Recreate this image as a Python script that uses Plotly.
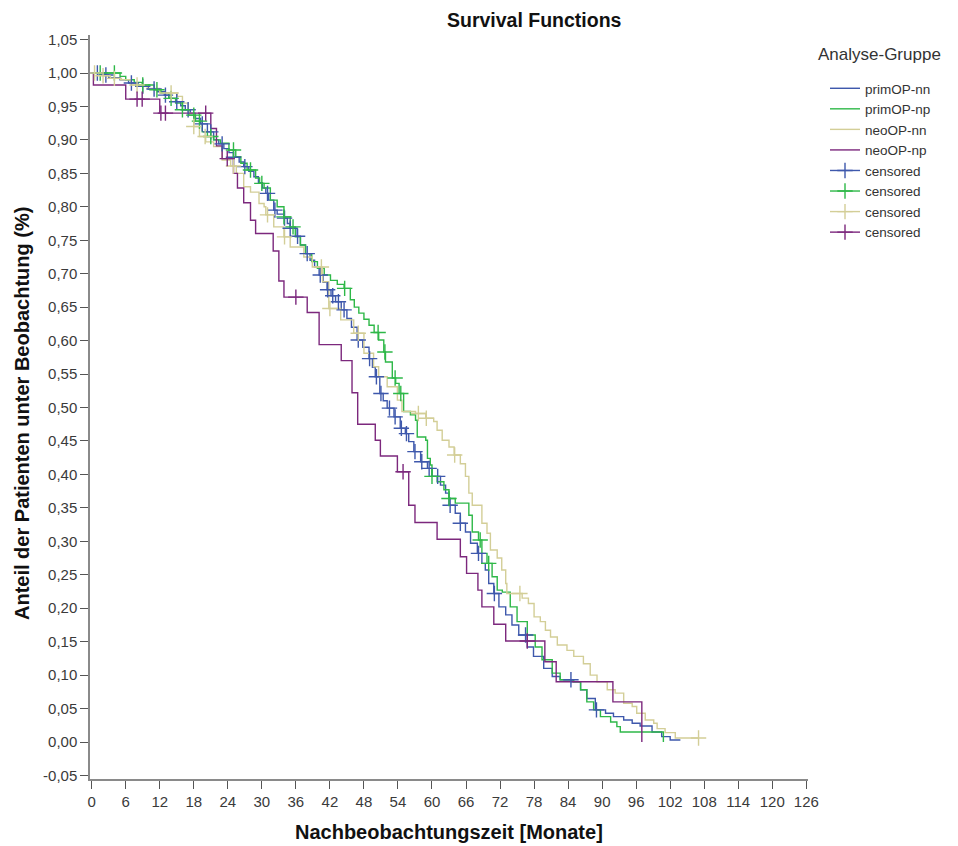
import plotly.graph_objects as go
import bisect

# Kaplan-Meier step functions: event time (months) and survival after that time
groups = ["primOP-nn", "primOP-np", "neoOP-nn", "neoOP-np"]
colors = ["#3E58AC", "#2EB848", "#D3CE97", "#7C287D"]

prim_nn_t = [0, 1.5, 3, 5, 6.5, 8, 10, 11.6, 12.8, 13.6, 14.8, 15.7, 16.5, 17.4, 18.2, 19.2,
             20.4, 21.5, 22.4, 23.3, 24.2, 25, 26, 26.8, 27.7, 28.6, 29.4, 30.1, 30.7, 31.2,
             32.1, 32.7, 33.9, 34.5, 35, 36, 36.8, 37.7, 38.5, 39.3, 40.1, 40.8, 41.5, 42.2,
             43, 44, 45, 45.8, 46.8, 47.8, 48.9, 49.5, 50, 50.8, 51.4, 52.1, 53.3, 54.4, 55.3,
             55.9, 56.8, 58, 59.2, 60, 61.5, 62.4, 63, 64.1, 65, 65.9, 66.8, 68, 68.8, 69.4,
             70, 70.9, 71.8, 73, 74.1, 75.3, 76.8, 77.9, 79.7, 81.2, 82.6, 84.7, 86.2, 87.3,
             88.8, 90.6, 92, 93.8, 95.3, 96.7, 98.8, 100.5, 102, 103.8]
prim_nn_s = [1.0, 0.997, 0.993, 0.99, 0.985, 0.98, 0.976, 0.972, 0.967, 0.962, 0.957, 0.951,
             0.945, 0.94, 0.932, 0.924, 0.912, 0.90, 0.894, 0.887, 0.881, 0.874, 0.867, 0.86,
             0.853, 0.845, 0.836, 0.828, 0.82, 0.81, 0.795, 0.789, 0.783, 0.775, 0.768, 0.756,
             0.743, 0.73, 0.72, 0.71, 0.698, 0.687, 0.676, 0.667, 0.658, 0.646, 0.633, 0.62,
             0.601, 0.59, 0.573, 0.56, 0.546, 0.521, 0.51, 0.499, 0.486, 0.469, 0.461, 0.449,
             0.434, 0.419, 0.409, 0.397, 0.384, 0.372, 0.354, 0.342, 0.327, 0.314, 0.297,
             0.282, 0.267, 0.257, 0.237, 0.222, 0.202, 0.19, 0.175, 0.16, 0.142, 0.128, 0.11,
             0.098, 0.093, 0.09, 0.078, 0.065, 0.048, 0.043, 0.038, 0.033, 0.028, 0.024,
             0.015, 0.008, 0.003, 0.003]

prim_np_t = [0, 5, 6, 7.5, 8.9, 11, 12.2, 13.6, 14.8, 16, 17.1, 18.3, 19.5, 20.4, 21.5, 22.7,
             24.2, 25.4, 26.3, 27.4, 28.9, 29.6, 30.4, 31.5, 32.7, 33.9, 35, 35.9, 36.8, 37.7,
             38.8, 39.8, 41, 42.1, 43.3, 44.5, 45.6, 46.3, 47.1, 48, 48.9, 49.8, 50.6, 51.5,
             51.8, 53, 53.6, 54.2, 55, 56.2, 57.1, 57.4, 58.9, 59.2, 59.7, 60, 60.9, 62.1, 63,
             64.1, 66.5, 67.1, 68.2, 68.8, 69.7, 70.6, 71.5, 72.4, 73.8, 75, 76.8, 78.2, 79.4,
             81.2, 82.6, 85, 86.2, 87.3, 88.5, 89.7, 91.5, 92.6, 93.2, 100.8]
prim_np_s = [1.0, 0.995, 0.99, 0.986, 0.982, 0.975, 0.97, 0.962, 0.955, 0.945, 0.937, 0.928,
             0.912, 0.905, 0.90, 0.895, 0.885, 0.875, 0.865, 0.855, 0.843, 0.835, 0.828, 0.81,
             0.80, 0.785, 0.77, 0.755, 0.743, 0.73, 0.718, 0.708, 0.698, 0.69, 0.684, 0.678,
             0.661, 0.65, 0.641, 0.632, 0.623, 0.612, 0.601, 0.583, 0.568, 0.544, 0.536, 0.521,
             0.494, 0.489, 0.481, 0.456, 0.451, 0.424, 0.414, 0.397, 0.389, 0.377, 0.364,
             0.357, 0.339, 0.314, 0.302, 0.282, 0.267, 0.247, 0.227, 0.224, 0.202, 0.18, 0.16,
             0.142, 0.123, 0.103, 0.093, 0.09, 0.078, 0.06, 0.048, 0.038, 0.03, 0.023, 0.015,
             0.0]

neo_nn_t = [0, 2, 3.3, 5.1, 6.9, 9.8, 12, 15.1, 16, 17, 18, 19, 20.1, 21.5, 23, 24.5, 25.5,
            26.8, 28, 29.5, 30.4, 30.7, 32.1, 33.9, 35, 37.4, 38.9, 40.7, 41.8, 43.9, 46.2, 48,
            49.7, 50.6, 52.1, 53.9, 54.7, 57.1, 58.9, 60.3, 60.9, 61.8, 63, 63.9, 65, 65.9,
            66.5, 67.1, 68.8, 69.7, 70.3, 71.5, 72.3, 73, 73.2, 75.9, 77, 78, 79.1, 80, 80.9,
            82.1, 83.8, 85, 86.7, 87.9, 89.1, 90.9, 92.3, 93.8, 95.3, 96.1, 97.6, 99.1, 99.7,
            101.1, 102.9, 107]
neo_nn_s = [1.0, 0.996, 0.992, 0.99, 0.982, 0.977, 0.97, 0.965, 0.955, 0.94, 0.92, 0.905,
            0.897, 0.89, 0.87, 0.861, 0.85, 0.83, 0.822, 0.805, 0.80, 0.788, 0.77, 0.755, 0.74,
            0.725, 0.71, 0.688, 0.648, 0.631, 0.611, 0.581, 0.561, 0.546, 0.531, 0.511, 0.494,
            0.491, 0.484, 0.479, 0.466, 0.451, 0.441, 0.429, 0.416, 0.397, 0.372, 0.354, 0.327,
            0.312, 0.287, 0.275, 0.257, 0.237, 0.222, 0.215, 0.207, 0.187, 0.18, 0.167, 0.157,
            0.145, 0.137, 0.128, 0.117, 0.10, 0.09, 0.078, 0.073, 0.058, 0.053, 0.043, 0.033,
            0.028, 0.02, 0.014, 0.006, 0.006]

neo_np_t = [0, 0.3, 6, 12, 21, 22, 23, 25, 25.7, 26.8, 28, 28.9, 32, 33, 33.9, 38, 40.1, 44,
            45.9, 46.9, 50, 50.9, 53.9, 55.9, 57, 60.9, 65, 66.1, 68.1, 68.8, 70.9, 73, 79.9,
            81.9, 91.9, 97]
neo_np_s = [1.0, 0.982, 0.961, 0.94, 0.917, 0.891, 0.872, 0.85, 0.828, 0.806, 0.78, 0.76,
            0.734, 0.689, 0.665, 0.642, 0.594, 0.57, 0.522, 0.475, 0.451, 0.4275, 0.404, 0.354,
            0.328, 0.303, 0.277, 0.252, 0.227, 0.202, 0.176, 0.151, 0.12, 0.09, 0.06, 0.0]

# Censoring times (months)
prim_nn_c = [1, 2.5, 7, 9, 11, 13, 15, 17, 19.5, 21, 23, 25, 27, 31, 32.3, 34, 35, 36.3, 38,
             40.3, 41.6, 42.5, 43.5, 44.5, 47, 49, 50.2, 51, 52.5, 53.5, 54.6, 55.5, 57, 58.2,
             59.5, 61, 63.2, 65, 68.2, 71, 76.5, 84.5, 89]
prim_np_c = [1.5, 4, 9, 11.5, 14, 16, 18, 19, 21, 25, 28, 30, 33.9, 35.5, 44.6, 50.5, 51.7,
             53.5, 54.5, 60, 63, 68.5, 70]
neo_nn_c = [0.5, 2, 4, 8, 14, 18, 20, 25, 31, 34, 40.5, 42, 47, 57.6, 59, 64, 75.5, 107]
neo_np_c = [8, 8.9, 12.2, 13, 20.1, 23.9, 36, 54.9, 76.8]

series_t = [prim_nn_t, prim_np_t, neo_nn_t, neo_np_t]
series_s = [prim_nn_s, prim_np_s, neo_nn_s, neo_np_s]
series_c = [prim_nn_c, prim_np_c, neo_nn_c, neo_np_c]

# Axis ticks
x_ticks = list(range(0, 127, 6))
y_ticks = [i / 100 for i in range(-5, 106, 5)]
y_ticklabels = [f"{v:.2f}".replace(".", ",") for v in y_ticks]


def surv_at(times, surv, t):
    i = bisect.bisect_right(times, t) - 1
    return surv[max(i, 0)]


fig = go.Figure()
for name, col, t, s in zip(groups, colors, series_t, series_s):
    fig.add_trace(go.Scatter(x=t, y=s, mode="lines", name=name,
                             line=dict(color=col, width=1.4, shape="hv")))

for col, t, s, c in zip(colors, series_t, series_s, series_c):
    xs, ys = [], []
    for ct in c:
        xs += [ct, None]
        ys += [surv_at(t, s, ct), None]
    fig.add_trace(go.Scatter(x=xs, y=ys, mode="lines+markers", name="censored",
                             connectgaps=False,
                             line=dict(color=col, width=1.4),
                             marker=dict(symbol="cross-thin", size=11,
                                         line=dict(color=col, width=1.4))))

axis_font = dict(family="Liberation Sans, Arial, sans-serif", size=15, color="#3a3a3a")

fig.update_layout(
    width=958, height=846,
    margin=dict(l=90, r=150, t=35, b=67),
    paper_bgcolor="white", plot_bgcolor="white",
    font=dict(family="Liberation Sans, Arial, sans-serif", color="#222"),
    showlegend=True,
    legend=dict(
        font=dict(size=13.5, color="#333"),
        x=(825 - 90) / 718, y=(779 - 73) / 744, xanchor="left", yanchor="top",
        tracegroupgap=0, itemwidth=30,
        bgcolor="rgba(0,0,0,0)",
    ),
    xaxis=dict(
        range=[-0.3, 126.3], tickmode="array", tickvals=x_ticks,
        showgrid=False, zeroline=False,
        showline=True, linecolor="#8a8a8a", linewidth=1.5,
        ticks="outside", ticklen=8, tickcolor="#555", tickwidth=1,
        tickfont=axis_font,
    ),
    yaxis=dict(
        range=[-0.0553, 1.0568], tickmode="array", tickvals=y_ticks,
        ticktext=y_ticklabels,
        showgrid=False, zeroline=False,
        showline=True, linecolor="#8a8a8a", linewidth=1.5,
        ticks="outside", ticklen=8, tickcolor="#555", tickwidth=1,
        tickfont=axis_font,
    ),
    annotations=[
        dict(text="<b>Survival Functions</b>", xref="paper", yref="paper",
             x=(534 - 90) / 718, y=1 + (35 - 20) / 744, xanchor="center", yanchor="middle",
             showarrow=False, font=dict(size=19.5, color="#111")),
        dict(text="Analyse-Gruppe", xref="paper", yref="paper",
             x=(816 - 90) / 718, y=(779 - 55) / 744, xanchor="left", yanchor="middle",
             showarrow=False, font=dict(size=17, color="#333")),
        dict(text="<b>Anteil der Patienten unter Beobachtung (%)</b>", xref="paper",
             yref="paper", x=(22 - 90) / 718, y=(779 - 414) / 744, textangle=-90,
             xanchor="center", yanchor="middle", showarrow=False,
             font=dict(size=20, color="#111")),
        dict(text="<b>Nachbeobachtungszeit [Monate]</b>", xref="paper", yref="paper",
             x=(449 - 90) / 718, y=(779 - 832) / 744, xanchor="center", yanchor="middle",
             showarrow=False, font=dict(size=20, color="#111")),
    ],
)

fig.write_html("out.html")
